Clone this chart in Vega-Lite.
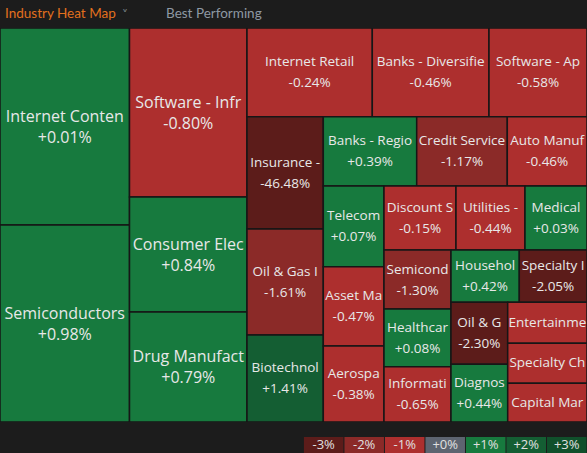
{
  "$schema": "https://vega.github.io/schema/vega-lite/v6.json",
  "background": "#1c1c1c",
  "padding": 0,
  "spacing": 15,
  "vconcat": [
    {
      "spacing": 0,
      "vconcat": [
        {
          "width": 587,
          "height": 28,
          "data": {
            "values": [
              {"tab": "Industry Heat Map", "active": true},
              {"tab": "Best Performing", "active": false}
            ]
          },
          "encoding": {
            "x": {"field": "tab", "type": "nominal", "sort": null, "bandPosition": 0, "scale": {"type": "band", "paddingInner": 0, "paddingOuter": 0.823, "align": 0.0189}, "axis": null}
          },
          "layer": [
            {
              "mark": {"type": "text", "font": "Lato", "fontSize": 13.5, "align": "left", "baseline": "middle"},
              "encoding": {
                "text": {"field": "tab", "type": "nominal"},
                "color": {"field": "active", "type": "nominal", "scale": {"domain": [true, false], "range": ["#e2701e", "#8e98a3"]}, "legend": null}
              }
            },
            {
              "transform": [{"filter": "datum.active"}],
              "mark": {"type": "text", "font": "DejaVu Sans", "fontSize": 12, "align": "left", "baseline": "middle", "dx": 117, "dy": 1, "fill": "#7d848c", "text": "\u02c5"}
            }
          ]
        },
        {
          "width": 587,
          "height": 394,
          "data": {
            "values": [
              {"name": "Internet Conten", "chg": 0.01, "w": 25512, "grp": "0"},
              {"name": "Semiconductors", "chg": 0.98, "w": 25512, "grp": "0"},
              {"name": "Software - Infr", "chg": -0.80, "w": 19858, "grp": "1"},
              {"name": "Consumer Elec", "chg": 0.84, "w": 13513, "grp": "1"},
              {"name": "Drug Manufact", "chg": 0.79, "w": 12925, "grp": "1"},
              {"name": "Internet Retail", "chg": -0.24, "w": 11114, "grp": "2|0"},
              {"name": "Banks - Diversifie", "chg": -0.46, "w": 10351, "grp": "2|0"},
              {"name": "Software - Ap", "chg": -0.58, "w": 8693, "grp": "2|0"},
              {"name": "Insurance -", "chg": -46.48, "w": 8568, "grp": "2|1|0"},
              {"name": "Oil & Gas I", "chg": -1.61, "w": 8088, "grp": "2|1|0"},
              {"name": "Biotechnol", "chg": 1.41, "w": 6638, "grp": "2|1|0"},
              {"name": "Banks - Regio", "chg": 0.39, "w": 6473, "grp": "2|1|1|0"},
              {"name": "Credit Service", "chg": -1.17, "w": 6279, "grp": "2|1|1|0"},
              {"name": "Auto Manuf", "chg": -0.46, "w": 5523, "grp": "2|1|1|0"},
              {"name": "Telecom", "chg": 0.07, "w": 4898, "grp": "2|1|1|1|0"},
              {"name": "Asset Ma", "chg": -0.47, "w": 4814, "grp": "2|1|1|1|0"},
              {"name": "Aerospa", "chg": -0.38, "w": 4613, "grp": "2|1|1|1|0"},
              {"name": "Discount S", "chg": -0.15, "w": 4608, "grp": "2|1|1|1|1|0"},
              {"name": "Utilities -", "chg": -0.44, "w": 4416, "grp": "2|1|1|1|1|0"},
              {"name": "Medical", "chg": 0.03, "w": 3968, "grp": "2|1|1|1|1|0"},
              {"name": "Semicond", "chg": -1.30, "w": 3953, "grp": "2|1|1|1|1|1|0"},
              {"name": "Healthcar", "chg": 0.08, "w": 3866, "grp": "2|1|1|1|1|1|0"},
              {"name": "Informati", "chg": -0.65, "w": 3705, "grp": "2|1|1|1|1|1|0"},
              {"name": "Househol", "chg": 0.42, "w": 3572, "grp": "2|1|1|1|1|1|1|0"},
              {"name": "Specialty I", "chg": -2.05, "w": 3541, "grp": "2|1|1|1|1|1|1|0"},
              {"name": "Oil & G", "chg": -2.30, "w": 3515, "grp": "2|1|1|1|1|1|1|1|0"},
              {"name": "Diagnos", "chg": 0.44, "w": 3272, "grp": "2|1|1|1|1|1|1|1|0"},
              {"name": "Entertainme", "chg": -0.52, "w": 3251, "grp": "2|1|1|1|1|1|1|1|1"},
              {"name": "Specialty Ch", "chg": -0.61, "w": 3172, "grp": "2|1|1|1|1|1|1|1|1"},
              {"name": "Capital Mar", "chg": -0.35, "w": 3069, "grp": "2|1|1|1|1|1|1|1|1"}
            ]
          },
          "transform": [
            {"window": [{"op": "row_number", "as": "i"}]},
            {"calculate": "split(datum.grp + '|' + datum.name, '|')", "as": "seg"},

            {"calculate": "join(slice(datum.seg, 0, 1), '|')", "as": "g1"},
            {"stack": "w", "groupby": [], "sort": [{"field": "i", "order": "ascending"}], "offset": "normalize", "as": ["s1", "e1"]},
            {"joinaggregate": [{"op": "min", "field": "s1", "as": "xa1"}, {"op": "max", "field": "e1", "as": "xb1"}], "groupby": ["g1"]},

            {"calculate": "join(slice(datum.seg, 0, 2), '|')", "as": "g2"},
            {"stack": "w", "groupby": ["g1"], "sort": [{"field": "i", "order": "ascending"}], "offset": "normalize", "as": ["s2", "e2"]},
            {"joinaggregate": [{"op": "min", "field": "s2", "as": "ya2"}, {"op": "max", "field": "e2", "as": "yb2"}], "groupby": ["g2"]},

            {"calculate": "join(slice(datum.seg, 0, 3), '|')", "as": "g3"},
            {"stack": "w", "groupby": ["g2"], "sort": [{"field": "i", "order": "ascending"}], "offset": "normalize", "as": ["s3", "e3"]},
            {"joinaggregate": [{"op": "min", "field": "s3", "as": "p3"}, {"op": "max", "field": "e3", "as": "q3"}], "groupby": ["g3"]},
            {"calculate": "datum.xa1 + datum.p3 * (datum.xb1 - datum.xa1)", "as": "xa3"},
            {"calculate": "datum.xa1 + datum.q3 * (datum.xb1 - datum.xa1)", "as": "xb3"},

            {"calculate": "join(slice(datum.seg, 0, 4), '|')", "as": "g4"},
            {"stack": "w", "groupby": ["g3"], "sort": [{"field": "i", "order": "ascending"}], "offset": "normalize", "as": ["s4", "e4"]},
            {"joinaggregate": [{"op": "min", "field": "s4", "as": "p4"}, {"op": "max", "field": "e4", "as": "q4"}], "groupby": ["g4"]},
            {"calculate": "datum.ya2 + datum.p4 * (datum.yb2 - datum.ya2)", "as": "ya4"},
            {"calculate": "datum.ya2 + datum.q4 * (datum.yb2 - datum.ya2)", "as": "yb4"},

            {"calculate": "join(slice(datum.seg, 0, 5), '|')", "as": "g5"},
            {"stack": "w", "groupby": ["g4"], "sort": [{"field": "i", "order": "ascending"}], "offset": "normalize", "as": ["s5", "e5"]},
            {"joinaggregate": [{"op": "min", "field": "s5", "as": "p5"}, {"op": "max", "field": "e5", "as": "q5"}], "groupby": ["g5"]},
            {"calculate": "datum.xa3 + datum.p5 * (datum.xb3 - datum.xa3)", "as": "xa5"},
            {"calculate": "datum.xa3 + datum.q5 * (datum.xb3 - datum.xa3)", "as": "xb5"},

            {"calculate": "join(slice(datum.seg, 0, 6), '|')", "as": "g6"},
            {"stack": "w", "groupby": ["g5"], "sort": [{"field": "i", "order": "ascending"}], "offset": "normalize", "as": ["s6", "e6"]},
            {"joinaggregate": [{"op": "min", "field": "s6", "as": "p6"}, {"op": "max", "field": "e6", "as": "q6"}], "groupby": ["g6"]},
            {"calculate": "datum.ya4 + datum.p6 * (datum.yb4 - datum.ya4)", "as": "ya6"},
            {"calculate": "datum.ya4 + datum.q6 * (datum.yb4 - datum.ya4)", "as": "yb6"},

            {"calculate": "join(slice(datum.seg, 0, 7), '|')", "as": "g7"},
            {"stack": "w", "groupby": ["g6"], "sort": [{"field": "i", "order": "ascending"}], "offset": "normalize", "as": ["s7", "e7"]},
            {"joinaggregate": [{"op": "min", "field": "s7", "as": "p7"}, {"op": "max", "field": "e7", "as": "q7"}], "groupby": ["g7"]},
            {"calculate": "datum.xa5 + datum.p7 * (datum.xb5 - datum.xa5)", "as": "xa7"},
            {"calculate": "datum.xa5 + datum.q7 * (datum.xb5 - datum.xa5)", "as": "xb7"},

            {"calculate": "join(slice(datum.seg, 0, 8), '|')", "as": "g8"},
            {"stack": "w", "groupby": ["g7"], "sort": [{"field": "i", "order": "ascending"}], "offset": "normalize", "as": ["s8", "e8"]},
            {"joinaggregate": [{"op": "min", "field": "s8", "as": "p8"}, {"op": "max", "field": "e8", "as": "q8"}], "groupby": ["g8"]},
            {"calculate": "datum.ya6 + datum.p8 * (datum.yb6 - datum.ya6)", "as": "ya8"},
            {"calculate": "datum.ya6 + datum.q8 * (datum.yb6 - datum.ya6)", "as": "yb8"},

            {"calculate": "join(slice(datum.seg, 0, 9), '|')", "as": "g9"},
            {"stack": "w", "groupby": ["g8"], "sort": [{"field": "i", "order": "ascending"}], "offset": "normalize", "as": ["s9", "e9"]},
            {"joinaggregate": [{"op": "min", "field": "s9", "as": "p9"}, {"op": "max", "field": "e9", "as": "q9"}], "groupby": ["g9"]},
            {"calculate": "datum.xa7 + datum.p9 * (datum.xb7 - datum.xa7)", "as": "xa9"},
            {"calculate": "datum.xa7 + datum.q9 * (datum.xb7 - datum.xa7)", "as": "xb9"},

            {"calculate": "join(slice(datum.seg, 0, 10), '|')", "as": "g10"},
            {"stack": "w", "groupby": ["g9"], "sort": [{"field": "i", "order": "ascending"}], "offset": "normalize", "as": ["s10", "e10"]},
            {"joinaggregate": [{"op": "min", "field": "s10", "as": "p10"}, {"op": "max", "field": "e10", "as": "q10"}], "groupby": ["g10"]},
            {"calculate": "datum.ya8 + datum.p10 * (datum.yb8 - datum.ya8)", "as": "ya10"},
            {"calculate": "datum.ya8 + datum.q10 * (datum.yb8 - datum.ya8)", "as": "yb10"},

            {"calculate": "(datum.xa9 + datum.xb9) / 2", "as": "xm"},
            {"calculate": "(datum.ya10 + datum.yb10) / 2", "as": "ym"},
            {"calculate": "(datum.chg >= 0 ? '+' : '-') + format(abs(datum.chg), '.2f') + '%'", "as": "lbl"},
            {"calculate": "datum.name + '\\n' + datum.lbl", "as": "txt"},
            {"calculate": "datum.yb10 - datum.ya10 > 0.11", "as": "tall"}
          ],
          "layer": [
            {
              "mark": {"type": "rect", "stroke": "#161616", "strokeWidth": 1.5, "clip": true},
              "encoding": {
                "x": {"field": "xa9", "type": "quantitative", "scale": {"domain": [0, 1], "nice": false, "zero": false}, "axis": null},
                "x2": {"field": "xb9"},
                "y": {"field": "ya10", "type": "quantitative", "scale": {"domain": [0, 1], "nice": false, "zero": false, "reverse": true}, "axis": null},
                "y2": {"field": "yb10"},
                "color": {
                  "field": "chg", "type": "quantitative",
                  "scale": {"type": "threshold", "domain": [-2, -1, -0.005, 0.005, 1, 2], "range": ["#5c1c1a", "#8b2a28", "#ad2f2e", "#5d6470", "#177a3e", "#145e33", "#10502b"]},
                  "legend": null
                }
              }
            },
            {
              "transform": [{"filter": "datum.tall"}],
              "mark": {"type": "text", "font": "Open Sans", "fill": "#e8e8e8", "align": "center", "baseline": "middle", "lineBreak": "\n", "lineHeight": 21, "dy": -10, "clip": true},
              "encoding": {
                "x": {"field": "xm", "type": "quantitative", "scale": {"domain": [0, 1], "nice": false, "zero": false}, "axis": null},
                "y": {"field": "ym", "type": "quantitative", "scale": {"domain": [0, 1], "nice": false, "zero": false, "reverse": true}, "axis": null},
                "text": {"field": "txt", "type": "nominal"},
                "size": {"field": "w", "type": "quantitative", "scale": {"type": "threshold", "domain": [12000], "range": [13.5, 16]}, "legend": null}
              }
            },
            {
              "transform": [{"filter": "!datum.tall"}],
              "mark": {"type": "text", "font": "Open Sans", "fill": "#e8e8e8", "align": "center", "baseline": "middle", "clip": true},
              "encoding": {
                "x": {"field": "xm", "type": "quantitative", "scale": {"domain": [0, 1], "nice": false, "zero": false}, "axis": null},
                "y": {"field": "ym", "type": "quantitative", "scale": {"domain": [0, 1], "nice": false, "zero": false, "reverse": true}, "axis": null},
                "text": {"field": "name", "type": "nominal"},
                "size": {"field": "w", "type": "quantitative", "scale": {"type": "threshold", "domain": [12000], "range": [13.5, 16]}, "legend": null}
              }
            }
          ]
        }
      ]
    },
    {
      "width": 587,
      "height": 16,
      "data": {
        "values": [
          {"label": "-3%", "v": -3, "chg": -2.5},
          {"label": "-2%", "v": -2, "chg": -1.5},
          {"label": "-1%", "v": -1, "chg": -0.5},
          {"label": "+0%", "v": 0, "chg": 0},
          {"label": "+1%", "v": 1, "chg": 0.5},
          {"label": "+2%", "v": 2, "chg": 1.5},
          {"label": "+3%", "v": 3, "chg": 2.5}
        ]
      },
      "transform": [
        {"calculate": "datum.v - 0.488", "as": "lo"},
        {"calculate": "datum.v + 0.488", "as": "hi"}
      ],
      "layer": [
        {
          "mark": {"type": "rect"},
          "encoding": {
            "x": {"field": "lo", "type": "quantitative", "scale": {"domain": [-10.99, 3.5], "nice": false, "zero": false}, "axis": null},
            "x2": {"field": "hi"},
            "color": {
              "field": "chg", "type": "quantitative",
              "scale": {"type": "threshold", "domain": [-2, -1, -0.005, 0.005, 1, 2], "range": ["#5c1c1a", "#8b2a28", "#ad2f2e", "#5d6470", "#177a3e", "#145e33", "#10502b"]},
              "legend": null
            }
          }
        },
        {
          "mark": {"type": "text", "font": "Open Sans", "fontSize": 13, "fill": "#e0e0e0", "align": "center", "baseline": "middle"},
          "encoding": {
            "x": {"field": "v", "type": "quantitative", "scale": {"domain": [-10.99, 3.5], "nice": false, "zero": false}, "axis": null},
            "text": {"field": "label", "type": "nominal"}
          }
        }
      ]
    }
  ],
  "resolve": {"scale": {"color": "independent"}},
  "config": {"view": {"stroke": null}}
}
